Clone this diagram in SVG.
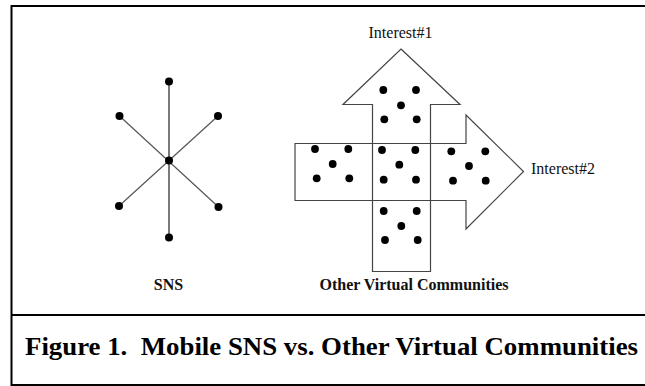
<svg xmlns="http://www.w3.org/2000/svg" width="645" height="386" viewBox="0 0 645 386">
<style>
.frame{fill:none;stroke:#000;stroke-width:2}
.arrow{fill:none;stroke:#444;stroke-width:1.2}
.edge{stroke:#555;stroke-width:1.2}
.edgev{stroke:#222;stroke-width:1.2}
.dot{fill:#000}
.lbl{font-family:"Liberation Serif","Times New Roman",serif;font-size:16px;fill:#111}
.blbl{font-family:"Liberation Serif","Times New Roman",serif;font-size:16px;font-weight:bold;fill:#111}
.cap{font-family:"Liberation Serif","Times New Roman",serif;font-size:26px;font-weight:bold;fill:#000}
</style>
<rect width="645" height="386" fill="#fff"/>
<g id="frame">
<path class="frame" d="M648,6 H11.5 V385 H648 M11.5,315 H648"/>
</g>
<g id="connectors">
<line class="edgev" x1="169" y1="82" x2="169" y2="237"/>
<line class="edge" x1="119.5" y1="116" x2="218.5" y2="207"/>
<line class="edge" x1="218" y1="116" x2="119" y2="206"/>
</g>
<g id="sns">
<circle class="dot" cx="169" cy="160.5" r="4"/>
<circle class="dot" cx="169" cy="81.5" r="4"/>
<circle class="dot" cx="119.5" cy="116" r="4"/>
<circle class="dot" cx="218" cy="116" r="4"/>
<circle class="dot" cx="119" cy="206" r="4"/>
<circle class="dot" cx="218.5" cy="207" r="4"/>
<circle class="dot" cx="169" cy="237.5" r="4"/>
<text class="blbl" x="168.5" y="290" text-anchor="middle">SNS</text>
</g>
<g id="interest1-arrow">
<polygon class="arrow" points="401,49 460,104.5 430.5,104.5 430.5,271.5 372.5,271.5 372.5,104.5 343,104.5"/>
<text class="lbl" x="400.5" y="38" text-anchor="middle">Interest#1</text>
</g>
<g id="interest2-arrow">
<polygon class="arrow" points="295,143.5 466,143.5 466,115 523.5,171.5 466,229 466,200.5 295,200.5"/>
<text class="lbl" x="531" y="174">Interest#2</text>
</g>
<g id="members">
<circle class="dot" cx="383.3" cy="90" r="3.9"/>
<circle class="dot" cx="416" cy="90" r="3.9"/>
<circle class="dot" cx="401" cy="105.3" r="3.9"/>
<circle class="dot" cx="384.3" cy="119.3" r="3.9"/>
<circle class="dot" cx="416.7" cy="119.3" r="3.9"/>
<circle class="dot" cx="315" cy="149" r="3.9"/>
<circle class="dot" cx="348.3" cy="149" r="3.9"/>
<circle class="dot" cx="332.7" cy="164" r="3.9"/>
<circle class="dot" cx="316.7" cy="178.3" r="3.9"/>
<circle class="dot" cx="349.3" cy="178.3" r="3.9"/>
<circle class="dot" cx="382" cy="150" r="3.9"/>
<circle class="dot" cx="415.3" cy="150" r="3.9"/>
<circle class="dot" cx="399.3" cy="164.7" r="3.9"/>
<circle class="dot" cx="383.7" cy="179.7" r="3.9"/>
<circle class="dot" cx="416" cy="179.7" r="3.9"/>
<circle class="dot" cx="451.3" cy="151.3" r="3.9"/>
<circle class="dot" cx="485.3" cy="151.3" r="3.9"/>
<circle class="dot" cx="469" cy="166" r="3.9"/>
<circle class="dot" cx="453" cy="180.7" r="3.9"/>
<circle class="dot" cx="485.7" cy="180.7" r="3.9"/>
<circle class="dot" cx="383.7" cy="211" r="3.9"/>
<circle class="dot" cx="416.7" cy="211" r="3.9"/>
<circle class="dot" cx="401.3" cy="226" r="3.9"/>
<circle class="dot" cx="385" cy="240" r="3.9"/>
<circle class="dot" cx="417.7" cy="240" r="3.9"/>
<text class="blbl" x="414" y="290" text-anchor="middle">Other Virtual Communities</text>
</g>
<g id="caption">
<text class="cap" x="25" y="355" xml:space="preserve" textLength="613" lengthAdjust="spacingAndGlyphs">Figure 1.  Mobile SNS vs. Other Virtual Communities</text>
</g>
</svg>
